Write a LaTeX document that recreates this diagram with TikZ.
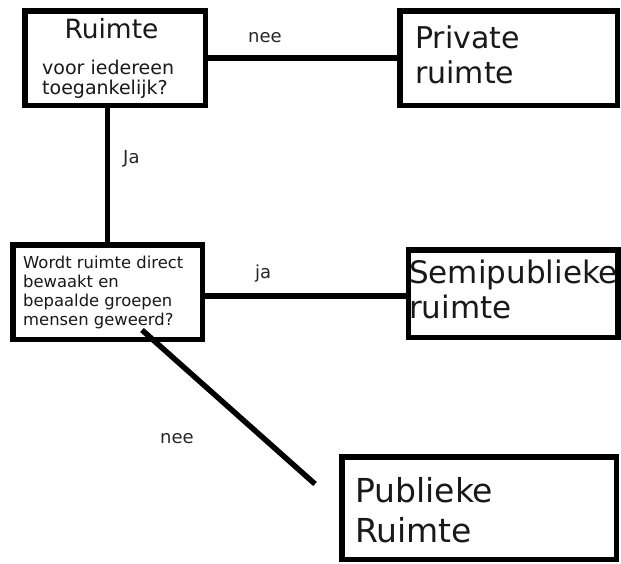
\documentclass[tikz,border=0pt]{standalone}
\usepackage{fontspec}
\setmainfont{DejaVu Sans}
\begin{document}
\begin{tikzpicture}[x=1pt,y=-1pt,
  box/.style={draw=black,line width=5.5pt,fill=white,rectangle,inner sep=0pt,outer sep=0pt},
  link/.style={draw=black,line width=5.5pt},
  txt/.style={anchor=base west,inner sep=0pt,text=black!90},
  lbl/.style={anchor=base west,inner sep=0pt,text=black!85,font=\fontsize{18}{20}\selectfont}]
\useasboundingbox (0,0) rectangle (621,563);

% boxes
\node[box,minimum width=180.5pt,minimum height=94.5pt] (q1)   at (115,58) {};
\node[box,minimum width=217.5pt,minimum height=94.5pt] (priv) at (508.5,58) {};
\node[box,minimum width=189.5pt,minimum height=94.5pt] (q2)   at (107.5,292) {};
\node[box,minimum width=209.5pt,minimum height=87.5pt] (semi) at (513,293.5) {};
\node[box,minimum width=274.5pt,minimum height=102.5pt] (pub) at (479,508) {};

% box texts
\node[txt,anchor=base,font=\fontsize{26.5}{30}\selectfont] (q1a) at (111.5,38) {Ruimte};
\node[txt,font=\fontsize{19}{21}\selectfont] (q1b) at (42,74) {voor iedereen};
\node[txt,font=\fontsize{19}{21}\selectfont] (q1c) at (42,94) {toegankelijk?};

\node[txt,font=\fontsize{30}{34}\selectfont] (priva) at (415,48) {Private};
\node[txt,font=\fontsize{30}{34}\selectfont] (privb) at (415,83) {ruimte};

\node[txt,font=\fontsize{16.4}{19}\selectfont] (q2a) at (23,268) {Wordt ruimte direct};
\node[txt,font=\fontsize{16.4}{19}\selectfont] (q2b) at (23,287) {bewaakt en};
\node[txt,font=\fontsize{16.4}{19}\selectfont] (q2c) at (23,306) {bepaalde groepen};
\node[txt,font=\fontsize{16.4}{19}\selectfont] (q2d) at (23,325) {mensen geweerd?};

\node[txt,font=\fontsize{31}{34}\selectfont] (semia) at (409,283) {Semipublieke};
\node[txt,font=\fontsize{31}{34}\selectfont] (semib) at (409,318) {ruimte};

\node[txt,font=\fontsize{33}{36}\selectfont] (puba) at (355,502) {Publieke};
\node[txt,font=\fontsize{33}{36}\selectfont] (pubb) at (355,542) {Ruimte};

% connectors
\draw[link] (q1.east) -- (priv.west);
\draw[link] (q1.south -| q2.north) -- (q2.north);
\draw[link] ([yshift=-4pt]q2.east) -- ([yshift=-4pt]q2.east -| semi.west);
\coordinate (d1) at (142,330);
\coordinate (d2) at (315,484);
\draw[link] (d1) -- (d2);

% answer labels
\node[lbl] (l1) at (248,42) {nee};
\node[lbl] (l2) at (123,163) {Ja};
\node[lbl] (l3) at (255,278) {ja};
\node[lbl] (l4) at (160,443) {nee};
\end{tikzpicture}
\end{document}
